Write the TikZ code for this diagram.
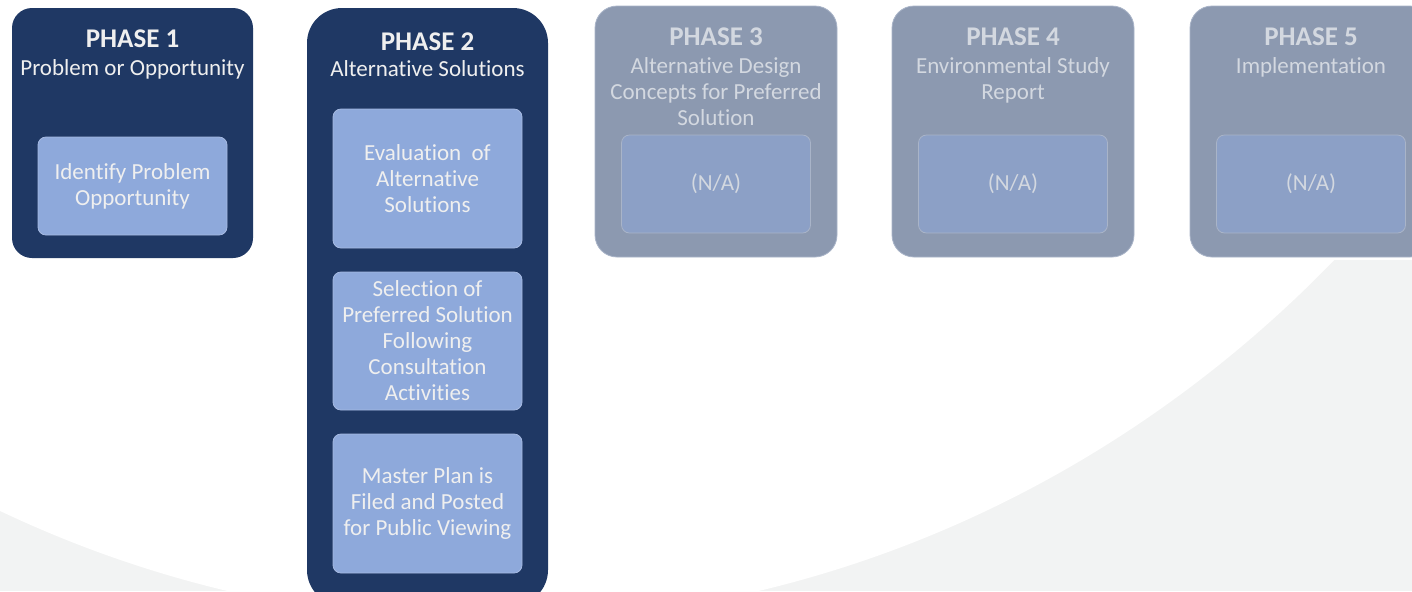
\documentclass[tikz,border=0pt]{standalone}
\usepackage{fontspec}
\setmainfont{Carlito}[Ligatures=NoCommon]

\definecolor{navy}{HTML}{1F3864}
\definecolor{paleblue}{HTML}{8EA9DB}
\definecolor{paleline}{HTML}{A6BAE2}
\definecolor{lighttext}{HTML}{EFEFEF}
\definecolor{fadednavy}{HTML}{8C99B0}
\definecolor{fadedblue}{HTML}{8CA0C6}
\definecolor{fadedline}{HTML}{A9B4C8}
\definecolor{fadedtext}{HTML}{D3D8E0}
\definecolor{bggrey}{HTML}{F2F3F3}

\begin{document}
\begin{tikzpicture}[x=0.5pt,y=-0.5pt]

    \tikzset{
      phase/.style={
        fill=navy,
        rounded corners=10pt,
        minimum width=120.5pt,
        inner sep=0pt,
      },
      faded/.style={
        fill=fadednavy,
        draw=fadedline,
        line width=0.4pt,
        rounded corners=11pt,
        minimum width=121pt,
        minimum height=125.5pt,
        inner sep=0pt,
      },
      taskbox/.style={
        fill=paleblue,
        draw=paleline,
        line width=0.4pt,
        rounded corners=4pt,
        minimum width=94.5pt,
        inner sep=0pt,
        align=center,
        text=lighttext,
        font=\fontsize{11.5}{13}\selectfont,
      },
      title/.style={anchor=base, font=\fontsize{13.5}{15}\selectfont\bfseries},
      sub/.style={anchor=base, align=center, font=\fontsize{11.5}{13}\selectfont},
    }
    \clip (0,0) rectangle (1412,591);
    \useasboundingbox (0,0) rectangle (1412,591);

    % backdrop: grey band with a big white arc cut out of it
    \fill[bggrey] (0,260) rectangle (1412,591);
    \fill[white] (493,-640) ellipse [x radius=1200, y radius=1262];

    % phase 1
    \node[phase, minimum height=125pt] (ph1) at (132.5,133) {};
    \node[title, text=lighttext] (ph1-title) at (132.5,47) {PHASE 1};
    \node[sub, text=lighttext] (ph1-sub) at (132.5,75) {Problem or Opportunity};
    \node[taskbox, minimum height=49pt] (ph1-task) at (132.5,186) {Identify Problem\\Opportunity};

    % phase 2 runs off the bottom edge
    \node[phase, rounded corners=17.5pt, minimum height=298.5pt] (ph2) at (427.5,306.5) {};
    \node[title, text=lighttext] (ph2-title) at (427.5,50) {PHASE 2};
    \node[sub, text=lighttext] (ph2-sub) at (427.5,76) {Alternative Solutions};
    \node[taskbox, minimum height=69.5pt] (ph2-eval) at (427.5,178.5) {Evaluation\ \ of\\Alternative\\Solutions};
    \node[taskbox, minimum height=69pt] (ph2-select) at (427.5,341) {Selection of\\Preferred Solution\\Following\\Consultation\\Activities};
    \node[taskbox, minimum height=69.5pt] (ph2-file) at (427.5,503.5) {Master Plan is\\Filed and Posted\\for Public Viewing};

    % phases 3 to 5, greyed out (\y = baseline of the last subtitle line)
    \foreach \n/\x/\y/\sub in {3/716/125/{Alternative Design\\Concepts for Preferred\\Solution},
                               4/1013/99/{Environmental Study\\Report},
                               5/1311/73/{Implementation}}{
      \node[faded] (ph\n) at (\x,131.5) {};
      \node[title, text=fadedtext] (ph\n-title) at (\x,45) {PHASE \n};
      \node[sub, text=fadedtext] (ph\n-sub) at (\x,\y) {\sub};
      \node[taskbox, fill=fadedblue, draw=fadedline, text=fadedtext, minimum height=49pt] (ph\n-task) at (\x,184) {(N/A)};
    }

\end{tikzpicture}
\end{document}
